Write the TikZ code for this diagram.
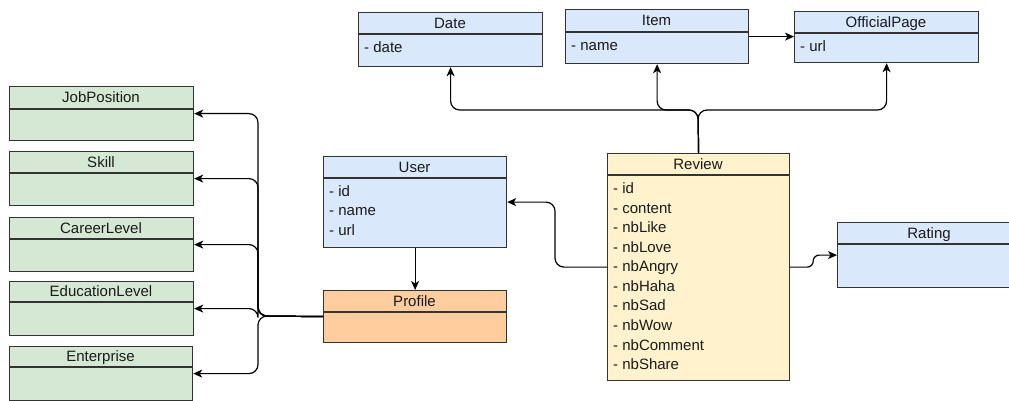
\documentclass[tikz,border=0pt]{standalone}
\usepackage{fontspec}
\setmainfont{Liberation Sans}
\usetikzlibrary{arrows.meta,calc}
\definecolor{bluef}{HTML}{DAE8FC}
\definecolor{greenf}{HTML}{D5E8D4}
\definecolor{orangef}{HTML}{FFCD9E}
\definecolor{yellowf}{HTML}{FFF2CC}
\definecolor{bord}{HTML}{333333}
\definecolor{txt}{HTML}{1A1A1A}
\tikzset{
  cls/.style={draw=bord, line width=1.2pt, anchor=north west, inner sep=0pt, minimum width=184pt},
  sep/.style={draw=bord, line width=1.2pt},
  hdr/.style={font=\fontsize{15}{18}\selectfont, text=txt, inner sep=0pt, text height=12pt, text depth=1.4pt},
  attr/.style={font=\fontsize{15}{18}\selectfont, text=txt, inner sep=0pt, anchor=west, text height=12pt, text depth=1.4pt},
  arr/.style={-{Stealth[length=9pt,width=8pt,inset=2.5pt]}, line width=1.2pt, draw=black, rounded corners=9pt},
}
\begin{document}
\begin{tikzpicture}[x=1pt,y=-1pt]
\useasboundingbox (0,0) rectangle (1009,401);
\clip (0,0) rectangle (1009,401);
\fill[white] (0,0) rectangle (1009,401);

% ---- left green boxes ----
\node[cls, fill=greenf, minimum height=54pt] (job) at (9,86) {};
\draw[sep] (9,109) -- (193,109);
\node[hdr] (jobt) at (101,97.5) {JobPosition};

\node[cls, fill=greenf, minimum height=54pt] (skill) at (9,151) {};
\draw[sep] (9,173) -- (193,173);
\node[hdr] (skillt) at (101,162) {Skill};

\node[cls, fill=greenf, minimum height=54pt] (career) at (9,217) {};
\draw[sep] (9,239) -- (193,239);
\node[hdr] (careert) at (101,228) {CareerLevel};

\node[cls, fill=greenf, minimum height=54pt] (edu) at (9,281) {};
\draw[sep] (9,302) -- (193,302);
\node[hdr] (edut) at (101,291.5) {EducationLevel};

\node[cls, fill=greenf, minimum height=54pt, minimum width=183pt] (ent) at (9,346) {};
\draw[sep] (9,367) -- (192,367);
\node[hdr] (entt) at (100.5,356.5) {Enterprise};

% ---- User ----
\node[cls, fill=bluef, minimum width=183pt, minimum height=91pt] (user) at (323,156) {};
\draw[sep] (323,178) -- (506,178);
\node[hdr] (usert) at (414.5,167) {User};
\node[attr] (u1) at (329,191) {- id};
\node[attr] (u2) at (329,210.5) {- name};
\node[attr] (u3) at (329,230) {- url};

% ---- Profile ----
\node[cls, fill=orangef, minimum width=183pt, minimum height=52pt] (profile) at (323,290) {};
\draw[sep] (323,312) -- (506,312);
\node[hdr] (profilet) at (414.5,301) {Profile};

% ---- Date ----
\node[cls, fill=bluef, minimum width=184pt, minimum height=54pt] (date) at (358,12) {};
\draw[sep] (358,34) -- (542,34);
\node[hdr] (datet) at (450,23) {Date};
\node[attr] (d1) at (364,47) {- date};

% ---- Item ----
\node[cls, fill=bluef, minimum width=183pt, minimum height=54pt] (item) at (565,9) {};
\draw[sep] (565,32) -- (748,32);
\node[hdr] (itemt) at (656.5,20.5) {Item};
\node[attr] (i1) at (571,45) {- name};

% ---- OfficialPage ----
\node[cls, fill=bluef, minimum width=184pt, minimum height=51pt] (op) at (794,11) {};
\draw[sep] (794,33) -- (978,33);
\node[hdr] (opt) at (886,22) {OfficialPage};
\node[attr] (o1) at (800,46) {- url};

% ---- Review ----
\node[cls, fill=yellowf, minimum width=182pt, minimum height=227pt] (review) at (607,153) {};
\draw[sep] (607,175) -- (789,175);
\node[hdr] (reviewt) at (698,164) {Review};
\node[attr] (r1) at (613,188) {- id};
\node[attr] (r2) at (613,208) {- content};
\node[attr] (r3) at (613,227) {- nbLike};
\node[attr] (r4) at (613,247) {- nbLove};
\node[attr] (r5) at (613,266) {- nbAngry};
\node[attr] (r6) at (613,286) {- nbHaha};
\node[attr] (r7) at (613,305) {- nbSad};
\node[attr] (r8) at (613,325) {- nbWow};
\node[attr] (r9) at (613,345) {- nbComment};
\node[attr] (r10) at (613,364) {- nbShare};

% ---- Rating ----
\node[cls, fill=bluef, minimum width=200pt, minimum height=65pt] (rating) at (837,222) {};
\draw[sep] (837,244) -- (1037,244);
\node[hdr] (ratingt) at (929,233) {Rating};

% ---- connectors ----
\coordinate (pj) at (258,316);
\draw[arr] (profile.west) -- (pj) |- (job.east);
\draw[arr] (profile.west) -- (pj) |- (skill.east);
\draw[arr] (profile.west) -- (pj) |- (career.east);
\draw[arr] (profile.west) -- (pj) |- (edu.east);
\draw[arr] (profile.west) -- (pj) |- (ent.east);

\draw[arr] (user.south) -- (profile.north);

\draw[arr] (review.west) -- ++(-52,0) |- (user.east);
\draw[arr, rounded corners=6pt] (review.east) -- ++(23,0) |- (rating.west);

\coordinate (rt) at (698,110);
\draw[arr] (review.north) -- (rt) -| (date.south);
\draw[arr] (review.north) -- (rt) -| (item.south);
\draw[arr] (review.north) -- (rt) -| (op.south);

\draw[arr] (item.east) -- (op.west |- item.east);
\end{tikzpicture}
\end{document}
